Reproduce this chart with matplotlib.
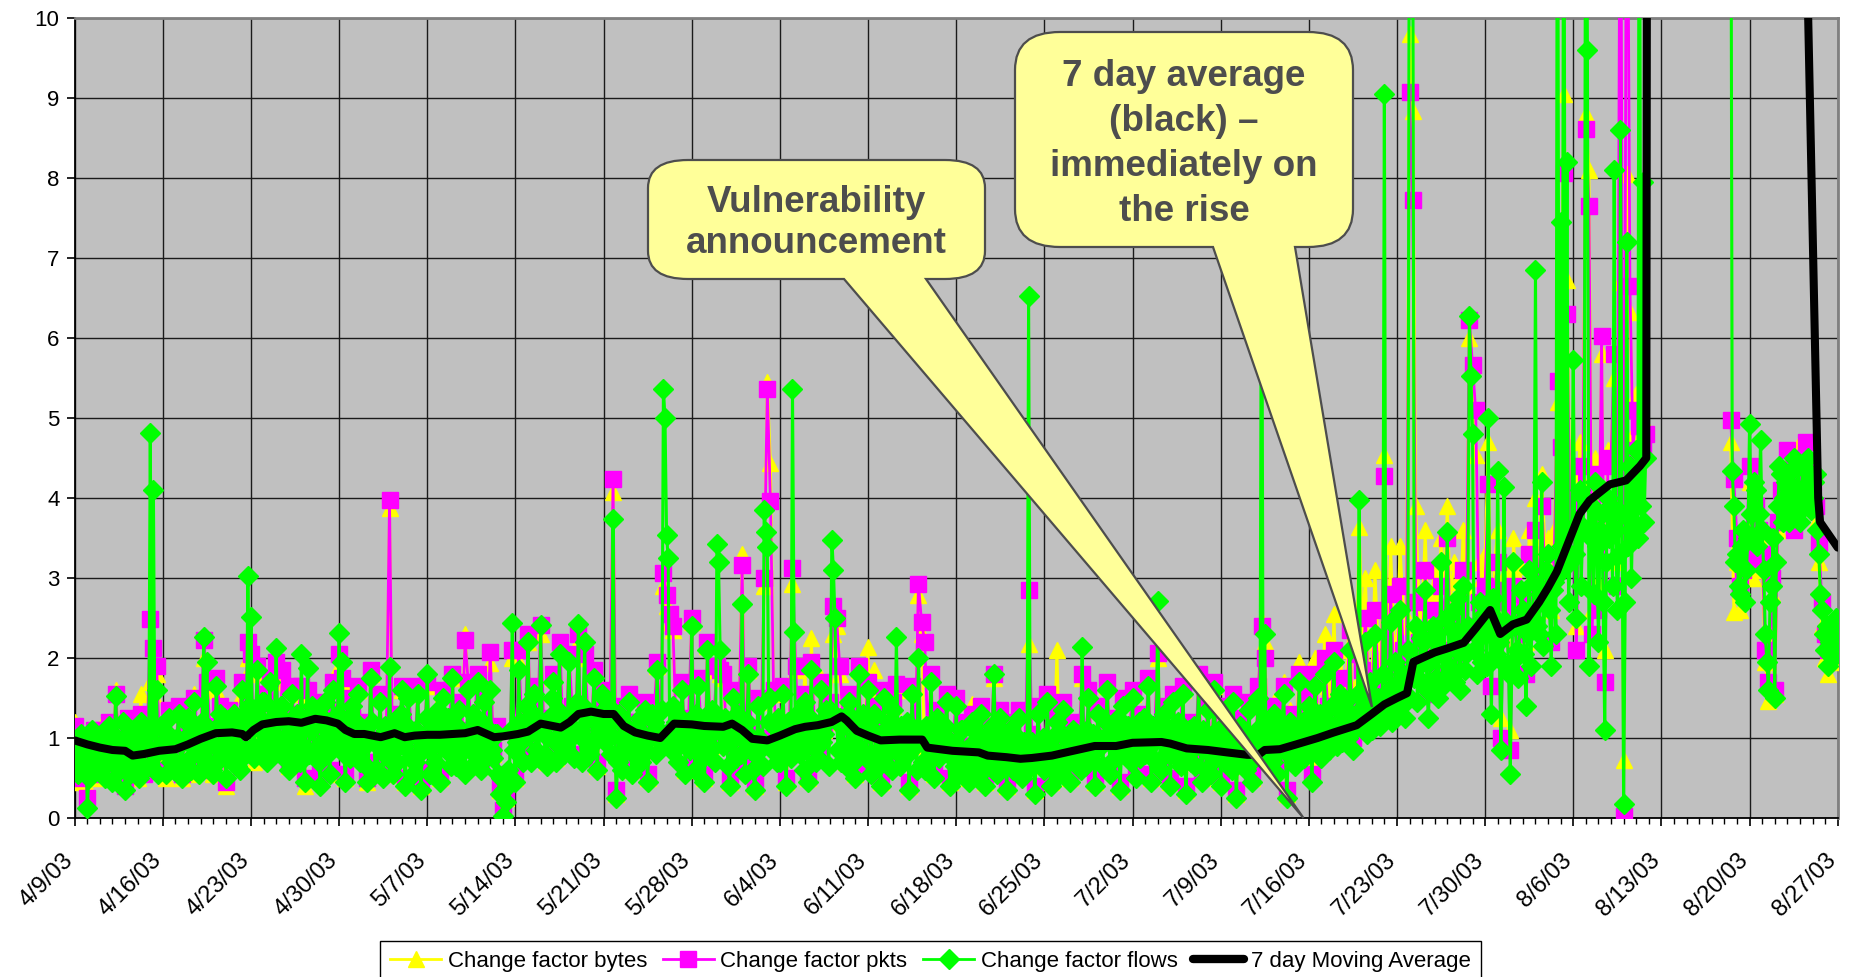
import numpy as np
import pandas as pd
import matplotlib
matplotlib.use('Agg')
import matplotlib.pyplot as plt
from matplotlib.path import Path
from matplotlib.patches import PathPatch
from matplotlib.lines import Line2D
from matplotlib.transforms import Affine2D, ScaledTranslation

plt.rcParams['font.family'] = ['Liberation Sans', 'DejaVu Sans']

nan = np.nan

# change factors for bytes and pkts: 4 readings per day from 4/9/03 (one row = one week)
bytes_cf = [
    1.20,0.45,0.85,0.80, 0.40,0.70,1.00,0.90, 0.50,1.20,0.75,1.10, 0.60,1.60,0.90,0.95, 0.55,1.20,0.80,0.75, 0.50,1.55,0.65,0.90, 1.70,1.55,1.80,0.85,
    0.80,0.50,1.30,0.95, 0.80,1.35,0.50,1.00, 1.30,0.55,1.55,0.90, 0.80,2.00,1.60,1.10, 0.55,1.60,1.35,0.95, 0.40,1.30,0.80,1.05, 0.90,1.55,1.20,2.00,
    1.90,0.70,1.80,1.10, 1.50,0.90,1.80,1.05, 1.80,0.85,1.70,1.20, 0.65,1.60,1.00,1.25, 1.55,0.40,1.50,1.10, 0.90,1.40,0.50,1.15, 1.25,0.55,1.65,1.00,
    1.90,1.70,0.50,1.25, 1.45,0.80,1.60,1.05, 1.15,0.45,1.80,0.95, 0.65,1.50,0.60,1.10, 3.87,0.55,1.25,0.95, 1.60,0.45,1.55,1.05, 0.75,1.60,0.40,1.00,
    1.65,0.55,1.20,0.95, 0.50,1.55,0.90,1.10, 1.75,0.70,1.40,1.00, 2.30,1.65,1.05,1.15, 1.75,0.65,1.50,0.95, 1.94,0.80,1.10,0.35, 0.15,0.25,0.50,2.00,
    0.50,1.95,1.15,1.00, 2.20,0.75,1.60,1.10, 2.30,1.10,0.70,1.20, 1.75,0.75,2.15,1.15, 0.90,2.00,1.35,1.05, 2.20,0.75,2.00,1.25, 0.95,1.80,0.65,1.30,
    1.55,1.25,1.10,4.07, 0.30,1.35,0.65,1.15, 1.50,0.60,1.15,0.95, 0.75,1.40,0.50,1.05, 1.25,1.90,1.00,2.90, 2.65,2.45,2.35,1.10, 0.95,1.65,0.60,1.20,
    2.45,0.65,1.70,1.10, 0.50,2.15,0.90,1.20, 1.85,1.80,1.75,1.05, 0.45,1.55,0.80,1.15, 3.30,0.60,1.85,1.00, 0.40,1.45,0.95,2.90, 5.45,4.44,1.55,0.95,
    0.75,1.60,0.45,1.05, 2.93,1.85,0.95,1.15, 1.90,0.50,2.25,1.10, 0.80,1.75,1.10,1.20, 1.40,2.30,2.40,1.80, 1.20,0.70,1.50,1.25, 0.55,1.85,0.90,1.10,
    2.14,0.60,1.85,1.05, 0.45,1.55,0.85,0.95, 1.40,1.60,0.70,1.00, 1.00,0.40,1.60,0.90, 2.79,2.30,0.65,0.95, 1.75,0.55,1.30,0.85, 0.90,1.50,0.45,0.90,
    1.45,0.60,1.15,0.85, 0.50,1.43,0.75,0.90, 1.35,0.45,1.10,0.80, 1.75,0.60,1.30,0.75, 0.40,1.15,0.65,0.80, 1.30,0.55,0.90,2.18, 1.00,0.35,1.35,0.75,
    0.65,1.50,0.45,0.85, 2.10,0.60,1.40,0.80, 0.50,1.15,0.80,0.90, 1.75,0.70,1.55,0.85, 0.45,1.35,0.95,0.95, 1.65,0.60,1.20,0.90, 0.40,1.45,0.85,1.00,
    1.55,0.55,1.25,0.95, 0.85,1.70,0.50,1.00, 2.00,0.65,1.35,0.90, 0.45,1.50,0.80,0.95, 1.60,0.35,1.15,0.85, 0.70,1.75,0.50,0.90, 1.40,0.60,1.65,0.80,
    0.45,1.35,0.75,0.85, 1.50,0.30,1.20,0.80, 0.65,1.40,0.50,0.75, 1.60,2.46,2.20,0.90, 1.00,1.45,0.60,0.85, 1.70,0.30,1.35,0.90, 1.05,1.95,1.30,1.00,
    1.75,0.65,2.00,1.20, 1.00,2.30,1.65,1.35, 2.55,1.30,2.10,1.50, 1.75,2.70,1.20,1.65, 3.64,2.40,3.00,1.80, 1.70,3.10,2.20,2.00, 4.54,2.10,3.40,2.20,
    2.20,3.40,2.60,2.40, 9.80,8.84,3.90,2.70, 2.60,3.60,2.10,2.80, 3.10,2.30,3.50,2.90, 3.90,2.70,3.20,2.95, 2.50,3.60,2.90,6.00, 5.66,4.54,3.20,3.00,
    3.30,4.70,2.00,3.20, 3.60,1.25,3.00,3.10, 1.10,3.50,2.80,3.15, 2.70,2.20,3.60,3.20, 4.00,3.10,4.30,3.40, 3.50,2.60,3.60,5.20, 5.20,9.05,6.72,3.90,
    4.30,2.40,4.70,4.20, 8.80,8.10,2.60,4.50, 2.95,5.80,2.10,4.60, 4.60,5.50,3.20,6.70, 0.73,8.05,6.32,4.80, 5.30,5.00,4.80,4.90, nan,nan,nan,nan,
    *[nan] * 20, nan,nan,4.70,2.58, 3.20,2.60,3.40,3.00,
    4.20,3.00,3.60,3.50, 3.10,1.95,1.46,2.80, 1.55,3.60,3.95,3.80, 4.40,3.90,4.10,4.00, 4.70,4.30,4.40,4.20, 4.00,3.70,3.20,2.40, 2.00,1.80,2.20,2.10,
    2.20,1.95,
]

pkts_cf = [
    1.15,0.50,0.90,0.85, 0.25,0.80,1.10,0.95, 0.55,1.10,0.80,1.20, 0.50,1.55,0.95,1.00, 0.40,1.25,0.70,0.80, 0.65,1.30,0.55,0.95, 2.49,2.12,1.90,0.90,
    0.90,0.60,1.35,1.00, 0.75,1.40,0.55,1.05, 1.35,0.65,1.50,0.95, 0.90,2.22,1.70,1.15, 0.60,1.75,1.40,1.00, 0.45,1.35,0.85,1.10, 0.95,1.70,1.25,2.20,
    2.05,0.80,1.90,1.15, 1.55,0.95,1.75,1.10, 1.95,0.80,1.85,1.25, 0.70,1.65,1.05,1.30, 1.65,0.50,1.60,1.15, 0.95,1.45,0.55,1.20, 1.30,0.60,1.70,1.05,
    2.05,1.75,0.55,1.30, 1.50,0.85,1.65,1.10, 1.20,0.50,1.85,1.00, 0.70,1.55,0.65,1.15, 3.97,0.60,1.30,1.00, 1.65,0.50,1.60,1.10, 0.80,1.65,0.45,1.05,
    1.70,0.60,1.25,1.00, 0.55,1.60,0.95,1.15, 1.80,0.75,1.45,1.05, 2.22,1.70,1.10,1.20, 1.80,0.70,1.55,1.00, 2.07,0.85,1.15,0.40, 0.10,0.30,0.55,2.10,
    0.55,2.10,1.20,1.05, 2.30,0.80,1.65,1.15, 2.41,1.15,0.75,1.25, 1.80,0.80,2.20,1.20, 0.95,2.05,1.40,1.10, 2.30,0.80,2.05,1.30, 1.00,1.85,0.70,1.35,
    1.60,1.30,1.15,4.24, 0.35,1.40,0.70,1.20, 1.55,0.65,1.20,1.00, 0.80,1.45,0.55,1.10, 1.30,1.95,1.05,3.06, 2.79,2.55,2.40,1.15, 1.00,1.70,0.65,1.25,
    2.50,0.70,1.75,1.15, 0.55,2.20,0.95,1.25, 1.90,1.85,1.80,1.10, 0.50,1.60,0.85,1.20, 3.16,0.65,1.90,1.05, 0.45,1.50,1.00,3.00, 5.36,3.96,1.60,1.00,
    0.80,1.65,0.50,1.10, 3.12,1.90,1.00,1.20, 1.55,0.55,1.95,1.15, 0.85,1.70,1.15,1.25, 1.45,2.65,2.50,1.90, 1.25,0.75,1.55,1.30, 0.60,1.90,0.95,1.15,
    1.70,0.65,1.40,1.10, 0.50,1.60,0.90,1.00, 1.45,1.68,0.75,1.05, 1.05,0.45,1.65,0.95, 2.93,2.45,2.20,1.00, 1.80,0.60,1.35,0.90, 0.95,1.55,0.50,0.95,
    1.50,0.65,1.20,0.90, 0.55,1.30,0.80,0.95, 1.40,0.50,1.15,0.85, 1.80,0.65,1.35,0.80, 0.45,1.20,0.70,0.85, 1.35,0.60,0.95,2.85, 1.05,0.40,1.40,0.80,
    0.70,1.55,0.50,0.90, 1.30,0.65,1.45,0.85, 0.55,1.20,0.85,0.95, 1.80,0.75,1.60,0.90, 0.50,1.40,1.00,1.00, 1.70,0.65,1.25,0.95, 0.45,1.50,0.90,1.05,
    1.60,0.60,1.30,1.00, 0.90,1.75,0.55,1.05, 2.06,0.70,1.40,0.95, 0.50,1.55,0.85,1.00, 1.65,0.40,1.20,0.90, 0.75,1.80,0.55,0.95, 1.45,0.65,1.70,0.85,
    0.50,1.40,0.80,0.90, 1.55,0.35,1.25,0.85, 0.70,1.45,0.55,0.80, 1.65,2.40,2.00,0.95, 1.05,1.40,0.65,0.90, 1.65,0.35,1.30,0.95, 0.90,1.80,1.15,1.00,
    1.55,0.55,1.80,1.10, 0.85,2.00,1.40,1.20, 2.10,1.05,1.75,1.30, 1.40,2.35,1.00,1.40, 2.05,1.85,2.50,1.50, 1.30,2.60,1.75,1.65, 4.27,1.65,2.80,1.80,
    1.60,2.90,2.10,1.85, 9.07,7.73,2.70,2.20, 2.00,3.10,1.55,2.30, 2.60,1.80,2.90,2.40, 3.50,2.10,2.40,2.45, 1.90,3.10,2.40,6.22, 5.66,5.10,2.70,2.60,
    2.90,4.17,1.65,2.85, 3.20,1.00,2.70,2.70, 0.85,2.90,2.50,2.80, 2.30,1.80,3.30,2.85, 3.60,2.70,3.90,3.05, 3.00,2.20,3.30,5.46, 4.64,8.06,6.30,3.60,
    3.90,2.10,4.40,4.00, 8.61,7.65,2.30,4.30, 2.60,6.03,1.70,4.40, 4.50,5.80,2.90,14.0, 0.03,14.0,6.65,4.60, 5.10,4.90,4.60,4.80, nan,nan,nan,nan,
    *[nan] * 20, nan,nan,4.97,4.24, 3.50,2.90,3.10,3.40,
    4.40,3.20,3.90,3.60, 3.30,2.10,1.70,3.00, 1.60,3.70,4.10,3.90, 4.60,4.00,3.60,4.20, 4.50,4.20,4.70,4.40, 4.20,3.90,3.44,2.70, 2.30,2.10,2.40,2.20,
    2.40,2.20,
]

# change factor for flows: 8 readings per day from 4/9/03 (one row = one week)
flows_cf = [
    0.95,0.70,0.55,0.85,1.05,0.65,0.80,1.00, 0.13,0.50,0.75,1.10,1.00,0.60,0.90,0.70, 0.60,0.85,1.05,0.50,0.70,0.95,1.15,0.75, 0.45,0.80,1.52,1.00,0.85,0.60,0.95,1.20,
    0.35,0.70,0.95,0.55,1.10,0.85,0.75,1.00, 0.70,0.50,1.20,0.90,0.60,1.05,0.90,0.65, 4.81,1.10,4.10,0.80,1.60,0.55,0.85,1.15,
    0.85,1.10,0.55,0.90,1.25,0.70,0.95,0.60, 0.70,1.00,1.30,0.65,0.50,0.95,1.00,1.20, 1.25,0.75,0.60,1.10,1.45,0.85,0.90,0.55, 0.85,1.20,2.26,0.95,1.95,0.70,1.10,0.60,
    0.55,0.90,1.65,1.15,1.30,0.75,0.95,1.25, 0.50,1.05,1.20,0.80,0.70,1.30,1.05,0.65, 0.90,0.60,1.60,1.25,1.15,0.80,3.02,1.40,
    2.51,0.90,0.75,1.30,1.85,0.85,1.10,1.45, 1.45,0.95,0.70,1.20,1.70,0.80,1.05,1.35, 2.12,1.00,0.90,1.40,1.40,0.75,1.20,0.95, 0.60,1.05,1.55,0.85,0.95,1.30,1.25,0.70,
    2.05,0.90,0.45,1.25,1.87,0.80,1.10,1.40, 0.85,1.20,1.35,0.70,0.40,0.95,1.15,1.45, 1.20,0.80,0.55,1.05,1.60,0.90,1.00,1.30,
    2.31,1.10,1.95,0.80,0.45,1.00,1.25,0.75, 1.40,0.95,0.80,1.20,1.55,0.70,1.05,0.90, 1.10,0.65,0.45,0.95,1.75,1.20,0.95,0.60, 0.60,1.00,1.45,0.85,0.50,1.15,1.10,0.75,
    1.89,0.80,0.55,1.05,1.20,0.70,0.95,1.30, 1.60,0.90,0.40,1.15,1.50,0.75,1.05,0.55, 0.70,1.10,1.55,0.80,0.35,0.95,1.00,1.25,
    1.80,0.85,0.55,1.20,1.15,0.70,0.95,1.35, 0.45,0.90,1.50,1.05,0.85,1.25,1.10,0.65, 1.75,0.95,0.65,1.15,1.35,0.80,1.00,0.60, 0.55,1.05,1.60,0.85,1.00,1.30,1.15,0.70,
    1.70,0.90,0.60,1.20,1.45,0.75,0.95,1.10, 1.60,0.85,0.75,1.05,1.05,0.55,0.30,0.50, 0.03,0.35,0.20,0.60,0.45,1.10,2.44,0.85,
    0.45,0.95,1.85,1.20,1.10,0.70,1.00,1.40, 2.20,1.05,0.70,1.30,1.55,0.85,1.10,0.75, 2.41,1.15,1.05,0.80,0.65,1.25,1.20,1.50, 1.70,0.95,0.70,1.35,2.05,1.00,1.15,0.80,
    0.85,1.20,1.95,1.05,1.30,0.75,1.05,1.45, 2.42,1.10,0.70,1.40,2.20,0.95,1.25,0.80, 0.90,1.30,1.75,1.00,0.60,1.15,1.30,1.55,
    1.50,0.95,1.20,1.40,1.05,0.80,3.74,1.25, 0.25,0.70,1.30,1.00,0.60,1.15,1.15,0.85, 1.45,0.90,0.55,1.10,1.10,0.75,0.95,1.25, 0.70,1.05,1.35,0.85,0.45,1.00,1.05,1.30,
    1.20,0.80,1.85,1.10,0.95,1.35,5.36,5.00, 3.54,3.25,1.10,0.85,1.40,0.95,1.20,0.70, 0.90,1.25,1.60,1.05,0.55,1.15,1.20,0.85,
    2.40,1.10,0.60,1.30,1.65,0.95,1.10,0.75, 0.45,1.00,2.10,1.20,0.85,1.35,1.20,0.70, 3.43,3.20,2.10,1.05,0.90,1.25,1.05,0.65, 0.40,0.95,1.50,1.10,0.75,1.30,1.15,0.80,
    2.68,1.00,0.55,1.20,1.80,0.85,1.00,0.60, 0.35,0.80,1.40,1.00,0.90,0.65,3.85,3.58, 3.39,1.20,1.50,0.85,0.95,1.15,0.70,1.25,
    0.70,1.10,1.55,0.90,0.40,1.20,1.05,0.75, 5.36,2.33,0.90,1.30,1.15,0.80,1.15,0.60, 1.45,1.00,0.45,1.25,1.85,0.90,1.10,0.70, 0.75,1.15,1.60,0.95,1.05,1.35,1.20,0.65,
    1.35,3.48,3.10,2.50,1.20,0.85,1.25,0.70, 1.15,0.80,0.65,1.30,1.45,0.95,1.25,0.70, 0.50,1.05,1.80,1.15,0.85,1.30,1.10,0.75,
    1.60,1.05,0.55,1.25,1.30,0.80,1.05,0.65, 0.40,0.90,1.50,1.10,0.80,1.20,0.95,0.60, 1.35,0.85,2.26,1.00,0.65,1.15,1.00,0.75, 0.95,1.20,0.35,0.85,1.55,1.05,0.90,0.60,
    2.00,1.10,1.10,0.70,0.60,1.15,0.95,0.75, 1.70,0.90,0.50,1.05,1.25,0.75,0.85,1.10, 0.85,1.15,1.45,0.80,0.40,0.95,0.90,0.65,
    1.40,0.85,0.55,1.10,1.10,0.70,0.85,0.60, 0.45,0.90,1.20,0.75,0.70,1.05,0.90,0.55, 1.30,0.80,0.40,1.00,1.05,0.65,0.80,1.15, 1.80,0.85,0.55,0.95,1.25,0.70,0.75,1.05,
    0.35,0.80,1.10,0.65,0.60,0.95,0.80,1.00, 1.25,0.75,0.50,0.95,0.85,0.60,6.52,0.90, 0.95,0.65,0.30,0.85,1.30,0.70,0.75,1.00,
    0.60,0.90,1.45,0.75,0.40,1.00,0.85,0.65, 1.20,0.80,0.55,1.05,1.35,0.70,0.80,1.00, 0.45,0.95,1.10,0.70,0.75,1.05,0.90,0.60, 2.14,0.90,0.65,1.10,1.50,0.75,0.85,1.05,
    0.40,0.85,1.30,1.00,0.90,0.65,0.95,1.20, 1.60,0.95,0.55,1.10,1.15,0.75,0.90,1.25, 0.35,0.80,1.40,1.00,0.80,1.15,1.00,0.70,
    1.50,0.85,0.50,1.10,1.20,0.75,0.95,1.25, 0.80,1.05,1.65,0.90,0.45,1.15,1.00,0.70, 2.71,1.00,0.60,1.20,1.30,0.80,0.90,1.10, 0.40,0.90,1.45,1.05,0.75,1.20,0.95,0.65,
    1.55,0.85,0.30,1.00,1.10,0.70,0.85,1.15, 0.65,1.00,1.70,0.90,0.45,1.10,0.90,0.60, 1.35,0.80,0.55,1.05,1.60,0.75,0.80,1.10,
    0.40,0.85,1.30,0.95,0.70,1.10,0.85,0.60, 1.45,0.80,0.25,0.95,1.15,0.70,0.80,1.05, 0.60,1.00,1.35,0.85,0.45,0.95,0.75,1.10, 1.50,0.85,8.50,0.95,2.30,0.70,0.90,1.15,
    0.95,0.70,1.30,1.05,0.55,0.90,0.85,1.15, 1.55,0.90,0.25,0.80,1.20,1.00,0.90,0.65, 0.80,1.10,1.70,0.95,1.05,0.75,0.95,1.25,
    1.40,0.95,0.45,1.15,1.65,0.85,1.00,1.30, 0.75,1.10,1.80,1.00,1.20,0.85,1.05,1.40, 1.95,1.05,0.90,1.35,1.55,0.95,1.10,1.45, 1.20,1.00,2.10,1.30,0.85,1.10,1.15,1.55,
    3.97,1.20,1.60,1.40,2.20,1.05,1.25,1.70, 1.10,1.45,2.30,1.25,1.50,1.15,1.35,1.80, 9.05,1.30,1.40,1.60,2.45,1.20,1.50,1.95,
    1.35,1.70,2.60,1.40,1.80,1.25,1.55,2.10, 14.0,13.0,12.0,1.75,2.40,1.45,1.90,2.25, 1.70,2.20,2.85,1.60,1.25,1.95,2.00,2.40, 2.30,1.75,1.50,2.10,3.20,1.65,2.05,2.50,
    3.58,1.90,1.80,2.35,2.60,1.70,2.10,2.75, 1.60,2.15,2.90,1.85,2.05,2.40,6.27,5.53, 4.80,2.10,2.40,1.80,2.25,2.70,1.95,2.55,
    2.40,1.90,5.00,2.30,1.30,2.75,2.50,2.05, 4.34,2.20,0.85,1.95,4.14,2.45,2.35,1.80, 0.55,1.95,3.20,2.40,2.10,1.75,2.45,2.85, 2.60,2.05,1.40,2.30,3.10,1.90,2.50,2.95,
    6.85,2.40,2.30,2.80,4.20,2.15,2.70,3.10, 3.30,2.60,1.90,2.85,2.95,2.30,14.0,3.05, 7.45,3.40,14.0,3.20,8.20,2.70,3.20,3.60,
    5.73,3.30,2.50,3.70,4.10,2.90,3.60,4.00, 14.0,9.60,1.90,3.50,3.90,2.80,4.20,3.40, 2.20,3.60,3.80,2.70,1.10,3.20,4.00,3.50, 3.90,2.90,8.10,3.60,2.60,3.30,8.60,3.80,
    0.17,2.70,7.20,3.40,4.40,3.00,4.20,3.60, 4.60,3.50,14.0,3.90,7.95,3.70,4.50,nan, *[nan] * 8,
    *[nan] * 40, nan,nan,nan,nan,14.0,4.34,3.90,3.20, 3.30,2.90,2.80,3.40,3.60,2.70,3.10,3.50,
    4.93,3.80,3.50,4.20,4.10,3.40,3.80,4.73, 3.60,3.10,2.30,1.95,1.60,2.70,2.90,3.50, 1.50,3.20,3.90,4.40,4.30,3.70,4.00,4.20, 4.20,3.70,3.80,4.35,4.50,3.90,4.10,4.40,
    3.70,4.10,4.40,3.90,4.10,4.50,4.30,3.85, 4.00,4.20,4.30,3.60,3.30,2.80,2.60,2.30, 2.10,2.40,1.90,2.20,2.40,2.00,2.20,2.50,
    2.30,2.10,2.00,
]

# 7 day moving average (day since 4/9/03, value)
ma_day = [0, 1, 2, 3, 4, 4.6, 5.5, 6.7, 8, 9, 10, 11.2, 12.5, 13.3, 13.6, 14.2, 14.9, 16, 17, 18, 19.1, 20, 20.9,
          21.5, 22.2, 23, 24.3, 25.4, 26.2, 27, 28, 29, 30, 31, 32, 33.3, 34, 35.2, 36, 37, 38.6, 39.3, 40, 41, 42,
          42.8, 43.6, 44.5, 45.5, 46.5, 47.6, 49, 50, 51.5, 52.2, 53, 53.8, 55, 56, 57.2, 58, 59, 60.1, 60.9, 61.3,
          62.1, 63, 64, 65.5, 67.3, 67.7, 69.7, 71.8, 72.5, 74, 75.1, 76, 77.6, 79, 81, 82.7, 84, 86.3, 87, 88.3,
          90, 91.5, 93.1, 94, 94.5, 95.7, 97, 98.7, 100, 101.8, 103, 104, 105, 105.8, 106.3, 107, 108, 109, 110.3,
          111.3, 112.4, 113.2, 114.2, 115.3, 116.3, 117, 117.7, 118.7, 119.5, 120.3, 121.9, 123.2, 124.3, 124.8,
          125.0, 137.2, 137.3, 138.45, 138.6, 140]
ma_val = [0.97, 0.92, 0.88, 0.85, 0.84, 0.78, 0.80, 0.84, 0.86, 0.92, 0.99, 1.06, 1.07, 1.05, 1.01, 1.10, 1.17,
          1.20, 1.21, 1.19, 1.24, 1.22, 1.18, 1.10, 1.05, 1.05, 1.01, 1.06, 1.01, 1.03, 1.04, 1.04, 1.05, 1.06,
          1.10, 1.01, 1.02, 1.05, 1.08, 1.18, 1.13, 1.20, 1.30, 1.33, 1.30, 1.30, 1.15, 1.07, 1.03, 1.00, 1.18,
          1.17, 1.15, 1.14, 1.18, 1.10, 0.99, 0.97, 1.03, 1.11, 1.14, 1.16, 1.20, 1.27, 1.22, 1.09, 1.03, 0.97,
          0.98, 0.98, 0.88, 0.84, 0.82, 0.78, 0.76, 0.74, 0.75, 0.78, 0.83, 0.90, 0.90, 0.94, 0.95, 0.93, 0.87,
          0.85, 0.82, 0.79, 0.79, 0.85, 0.86, 0.92, 1.00, 1.07, 1.16, 1.30, 1.42, 1.50, 1.56, 1.95, 2.00, 2.07,
          2.12, 2.19, 2.38, 2.60, 2.30, 2.42, 2.48, 2.70, 2.88, 3.08, 3.48, 3.80, 3.97, 4.17, 4.22, 4.40, 4.50,
          30.0, 30.0, 12.7, 4.00, 3.70, 3.38]

tick_labels = ['4/9/03', '4/16/03', '4/23/03', '4/30/03', '5/7/03', '5/14/03', '5/21/03', '5/28/03',
               '6/4/03', '6/11/03', '6/18/03', '6/25/03', '7/2/03', '7/9/03', '7/16/03', '7/23/03',
               '7/30/03', '8/6/03', '8/13/03', '8/20/03', '8/27/03']

W, H = 1850, 977
fig = plt.figure(figsize=(W / 100, H / 100), dpi=100)
ax = fig.add_axes([74.7 / W, 1 - 818 / H, (1837.7 - 74.7) / W, (818 - 18) / H])
ax.set_facecolor('#c0c0c0')

t_b = np.arange(len(bytes_cf)) / 4
t_p = np.arange(len(pkts_cf)) / 4
t_f = np.arange(len(flows_cf)) / 8

ax.plot(t_b, bytes_cf, color='#ffff00', lw=2, marker='^', ms=12, mec='#ffff00', zorder=3)
ax.plot(t_p, pkts_cf, color='#ff00ff', lw=2, marker='s', ms=11, mec='#ff00ff', zorder=4)
ax.plot(t_f, flows_cf, color='#00ff00', lw=2.2, marker='D', ms=10, mec='#00ff00', zorder=5)
ax.plot(ma_day, ma_val, color='black', lw=5.8, zorder=6, solid_joinstyle='round', solid_capstyle='round')

ax.set_xlim(0, 140)
ax.set_ylim(0, 10)

start = pd.Timestamp('2003-04-09')
tick_pos = [(pd.to_datetime(s, format='%m/%d/%y') - start).days for s in tick_labels]
ax.set_xticks(tick_pos)
ax.set_xticklabels(tick_labels, rotation=45, ha='right', va='center', rotation_mode='anchor', fontsize=17)
ax.set_xticks(np.arange(0, 141), minor=True)
ax.tick_params(axis='x', which='major', direction='out', length=6, width=1.2, pad=22)
ax.tick_params(axis='x', which='minor', direction='out', length=4, width=1.0)
ax.set_yticks(range(0, 11))
ax.tick_params(axis='y', direction='out', length=6, width=1.2, labelsize=16, pad=5)
shift = ScaledTranslation(-5 / 100, 0, fig.dpi_scale_trans)
for lab in ax.get_xticklabels():
    lab.set_transform(lab.get_transform() + shift)

ax.set_axisbelow(True)
ax.grid(True, which='major', color='#1a1a1a', lw=1.0)
for s in ['top', 'right']:
    ax.spines[s].set_color('#808080')
    ax.spines[s].set_linewidth(2)
for s in ['left', 'bottom']:
    ax.spines[s].set_color('black')
    ax.spines[s].set_linewidth(1.3)

# legend
handles = [
    Line2D([], [], color='#ffff00', lw=2, marker='^', ms=12, label='Change factor bytes'),
    Line2D([], [], color='#ff00ff', lw=2, marker='s', ms=11, label='Change factor pkts'),
    Line2D([], [], color='#00ff00', lw=2, marker='D', ms=10, label='Change factor flows'),
    Line2D([], [], color='black', lw=6, solid_capstyle='round', label='7 day Moving Average'),
]
leg = fig.legend(handles=handles, loc='upper left', bbox_to_anchor=(380 / W, 1 - 941 / H), ncol=4,
                 fontsize=16, handlelength=2.3, handletextpad=0.3, columnspacing=0.7, borderpad=0.45,
                 borderaxespad=0, fancybox=False, edgecolor='black', framealpha=1)
leg.get_frame().set_linewidth(1.0)

# callouts, drawn in pixel space of the picture (origin top-left)
px = Affine2D().scale(1 / W, -1 / H).translate(0, 1) + fig.transFigure


def callout(x0, y0, x1, y1, rx, ry, b0, b1, tip):
    verts = [(x0 + rx, y0), (x1 - rx, y0), (x1, y0), (x1, y0 + ry), (x1, y1 - ry), (x1, y1), (x1 - rx, y1),
             (b1, y1), tip, (b0, y1), (x0 + rx, y1), (x0, y1), (x0, y1 - ry), (x0, y0 + ry), (x0, y0),
             (x0 + rx, y0), (x0 + rx, y0)]
    codes = [Path.MOVETO, Path.LINETO, Path.CURVE3, Path.CURVE3, Path.LINETO, Path.CURVE3, Path.CURVE3,
             Path.LINETO, Path.LINETO, Path.LINETO, Path.LINETO, Path.CURVE3, Path.CURVE3, Path.LINETO,
             Path.CURVE3, Path.CURVE3, Path.CLOSEPOLY]
    patch = PathPatch(Path(verts, codes), facecolor='#ffff99', edgecolor='#4d4d4d', lw=1.6, transform=px,
                      zorder=2)
    fig.add_artist(patch)


callout(648, 160, 985, 279, 40, 28, 844, 926, (1303.5, 818))
callout(1015, 32, 1353, 247, 45, 38, 1213, 1295, (1372, 707))

fig.text(816.5, 223, 'Vulnerability\nannouncement', transform=px, ha='center', va='center', fontsize=26.5,
         fontweight='bold', color='#4d4d4d', linespacing=1.22, zorder=3)
fig.text(1184, 144, '7 day average\n(black) \u2013\nimmediately on\nthe rise', transform=px, ha='center',
         va='center', fontsize=26.5, fontweight='bold', color='#4d4d4d', linespacing=1.38, zorder=3)

fig.savefig('out.png', dpi=100)
